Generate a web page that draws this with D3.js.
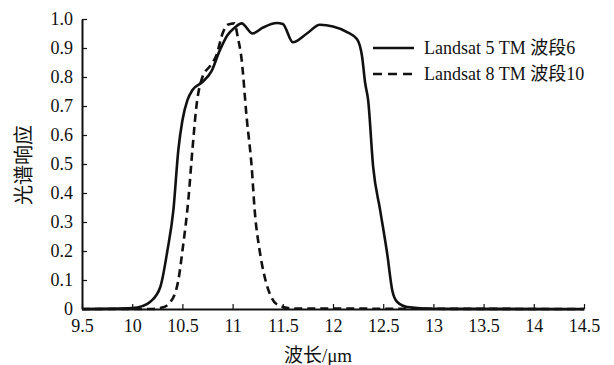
<!DOCTYPE html>
<html>
<head>
<meta charset="utf-8">
<script src="https://cdn.jsdelivr.net/npm/d3@7"></script>
<style>
  body { margin: 0; background: #fff; }
  svg text { font-family: "Liberation Serif", "Times New Roman", Times, "Noto Sans CJK SC", serif !important; fill: #111; }
</style>
</head>
<body>
<svg id="chart" width="614" height="365"></svg>
<script>
// Landsat 5 TM band 6 (solid)
const tm5Wave = [9.5, 10.0, 10.1, 10.18, 10.28, 10.35, 10.41, 10.46, 10.5, 10.55, 10.6, 10.69, 10.79, 10.87, 10.95, 11.02, 11.09, 11.2, 11.3, 11.44, 11.5, 11.6, 11.74, 11.87, 12.0, 12.14, 12.24, 12.29, 12.32, 12.35, 12.4, 12.47, 12.54, 12.59, 12.64, 12.74, 13.0, 14.5];
const tm5Resp = [0, 0.003, 0.01, 0.025, 0.076, 0.2, 0.34, 0.55, 0.65, 0.72, 0.755, 0.78, 0.82, 0.89, 0.945, 0.97, 0.985, 0.95, 0.97, 0.986, 0.983, 0.92, 0.95, 0.98, 0.974, 0.955, 0.93, 0.87, 0.78, 0.72, 0.49, 0.34, 0.19, 0.065, 0.024, 0.007, 0.001, 0];

// Landsat 8 band 10 (dashed)
const oli8Wave = [9.5, 10.2, 10.3, 10.38, 10.46, 10.5, 10.56, 10.6, 10.64, 10.7, 10.78, 10.84, 10.9, 10.95, 11.02, 11.05, 11.09, 11.14, 11.19, 11.22, 11.27, 11.32, 11.39, 11.45, 11.6, 14.5];
const oli8Resp = [0, 0, 0.005, 0.024, 0.1, 0.2, 0.38, 0.55, 0.7, 0.8, 0.84, 0.876, 0.95, 0.98, 0.985, 0.94, 0.86, 0.66, 0.49, 0.34, 0.2, 0.11, 0.038, 0.014, 0.002, 0];

const xTicks = [9.5, 10, 10.5, 11, 11.5, 12, 12.5, 13, 13.5, 14, 14.5];
const yTicks = [0, 0.1, 0.2, 0.3, 0.4, 0.5, 0.6, 0.7, 0.8, 0.9, 1.0];
const legendLabels = ['Landsat 5 TM 波段6', 'Landsat 8 TM 波段10'];

const svg = d3.select('#chart');
const margin = {top: 19, right: 30, bottom: 56, left: 82};
const width = 614 - margin.left - margin.right;
const height = 365 - margin.top - margin.bottom;

const x = d3.scaleLinear().domain([9.5, 14.5]).range([0, width]);
const y = d3.scaleLinear().domain([0, 1]).range([height, 0]);

const root = svg.append('g')
    .attr('transform', `translate(${margin.left}, ${margin.top})`);

const xAxis = root.append('g')
    .attr('transform', `translate(0, ${height})`)
    .call(d3.axisBottom(x)
        .tickValues(xTicks)
        .tickFormat(d3.format('~g'))
        .tickSizeInner(-5)
        .tickSizeOuter(0)
        .tickPadding(10));

const yAxis = root.append('g')
    .call(d3.axisLeft(y)
        .tickValues(yTicks)
        .tickFormat((d) => d === 0 ? '0' : d3.format('.1f')(d))
        .tickSizeInner(-5)
        .tickSizeOuter(0)
        .tickPadding(9));

[xAxis, yAxis].forEach((ax) => {
    ax.attr('font-family', null);
    ax.selectAll('path.domain').attr('stroke', '#111').attr('stroke-width', 2);
    ax.selectAll('.tick line').attr('stroke', '#111').attr('stroke-width', 1.2);
    ax.selectAll('.tick text')
        .attr('font-size', 18)
        .attr('fill', '#111');
});

const line = d3.line()
    .x((d) => x(d[0]))
    .y((d) => y(d[1]))
    .curve(d3.curveMonotoneX);

root.append('path')
    .datum(d3.zip(tm5Wave, tm5Resp))
    .attr('fill', 'none')
    .attr('stroke', '#111')
    .attr('stroke-width', 2.6)
    .attr('stroke-linejoin', 'round')
    .attr('d', line);

root.append('path')
    .datum(d3.zip(oli8Wave, oli8Resp))
    .attr('fill', 'none')
    .attr('stroke', '#111')
    .attr('stroke-width', 2.6)
    .attr('stroke-dasharray', '8,5')
    .attr('d', line);

// legend
const legend = svg.append('g').attr('transform', 'translate(373, 48)');
legendLabels.forEach((label, i) => {
    const row = legend.append('g').attr('transform', `translate(0, ${i * 26})`);
    row.append('line')
        .attr('x1', 0).attr('x2', 41)
        .attr('stroke', '#111')
        .attr('stroke-width', 2.6)
        .attr('stroke-dasharray', i === 1 ? '9,6' : null);
    row.append('text')
        .attr('x', 51)
        .attr('dy', '0.35em')
        .attr('font-size', 18)
        .text(label);
});

// axis titles
svg.append('text')
    .attr('x', margin.left + width / 2 - 15)
    .attr('y', 362)
    .attr('text-anchor', 'middle')
    .attr('font-size', 19)
    .text('波长/μm');

svg.append('text')
    .attr('transform', 'translate(31, 165) rotate(-90)')
    .attr('text-anchor', 'middle')
    .attr('font-size', 20)
    .text('光谱响应');
</script>
</body>
</html>
